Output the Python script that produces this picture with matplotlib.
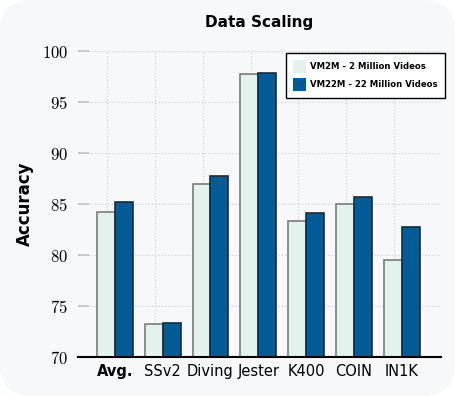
import matplotlib
matplotlib.use("Agg")
import matplotlib.pyplot as plt
import numpy as np
from matplotlib.patches import FancyBboxPatch

plt.rcParams['mathtext.fontset'] = 'cm'

categories = ["Avg.", "SSv2", "Diving", "Jester", "K400", "COIN", "IN1K"]
vm2m = [84.2, 73.2, 87.0, 97.7, 83.3, 85.0, 79.5]
vm22m = [85.2, 73.3, 87.7, 97.8, 84.1, 85.7, 82.7]
series_labels = ["VM2M - 2 Million Videos", "VM22M - 22 Million Videos"]
yticks = [70, 75, 80, 85, 90, 95, 100]

W, H = 455, 396
fig = plt.figure(figsize=(W / 100, H / 100), dpi=100)
fig.patch.set_facecolor("white")
bg = FancyBboxPatch((0.0, 0.0), 1.0, 1.0, boxstyle="round,pad=0,rounding_size=0.07",
                    transform=fig.transFigure, facecolor="#f7f8fa", edgecolor="none",
                    mutation_aspect=W / H, zorder=-10)
fig.patches.append(bg)

ax = fig.add_axes([78 / W, 1 - 357 / H, (441 - 78) / W, (357 - 51) / H])
ax.set_facecolor("none")

x = np.arange(len(categories))
bw = 0.375
ax.bar(x - bw / 2, vm2m, width=bw, color="#e4f2ee", edgecolor="#7a7a7a", linewidth=1.2,
       label=series_labels[0], zorder=3)
ax.bar(x + bw / 2, vm22m, width=bw, color="#005b96", edgecolor="#1c2b3a", linewidth=1.2,
       label=series_labels[1], zorder=3)

ax.set_ylim(70, 100)
ax.set_xlim(-0.77, 6.82)
ax.set_yticks(yticks)
ax.set_yticklabels([f"${v}$" for v in yticks], fontsize=12)
ax.set_xticks(x)
ax.set_xticklabels(categories, fontsize=10.5, family="DejaVu Sans")
ax.get_xticklabels()[0].set_fontweight("bold")
ax.tick_params(axis="x", length=0, pad=5)
ax.tick_params(axis="y", direction="in", length=8, color="#c4c4c4", width=1.2, pad=7)

for v in yticks[1:]:
    ax.axhline(v, color="#cccccc", linestyle=(0, (1, 2)), linewidth=0.8, zorder=0)
for xi in x:
    ax.axvline(xi - 0.16, color="#cccccc", linestyle=(0, (1, 2)), linewidth=0.8, zorder=0)

for s in ["top", "right", "left"]:
    ax.spines[s].set_visible(False)
ax.spines["bottom"].set_linewidth(1.5)
ax.spines["bottom"].set_color("black")
ax.spines["bottom"].set_zorder(5)

ax.set_ylabel("Accuracy", fontsize=12, fontweight="bold", labelpad=6)
ax.set_title("Data Scaling", fontsize=11, fontweight="bold", pad=17)

leg = ax.legend(loc="upper right", bbox_to_anchor=(1.011, 0.994),
                prop={"weight": "bold", "size": 6.1}, frameon=True, fancybox=False,
                edgecolor="black", facecolor="white", framealpha=1,
                handlelength=1.5, handleheight=1.93, handletextpad=0.5,
                borderpad=0.84, labelspacing=0.62, borderaxespad=0)
leg.get_frame().set_linewidth(1.0)
for h in leg.legend_handles:
    h.set_edgecolor("none")

fig.savefig("out.png", dpi=100, facecolor=fig.get_facecolor())
